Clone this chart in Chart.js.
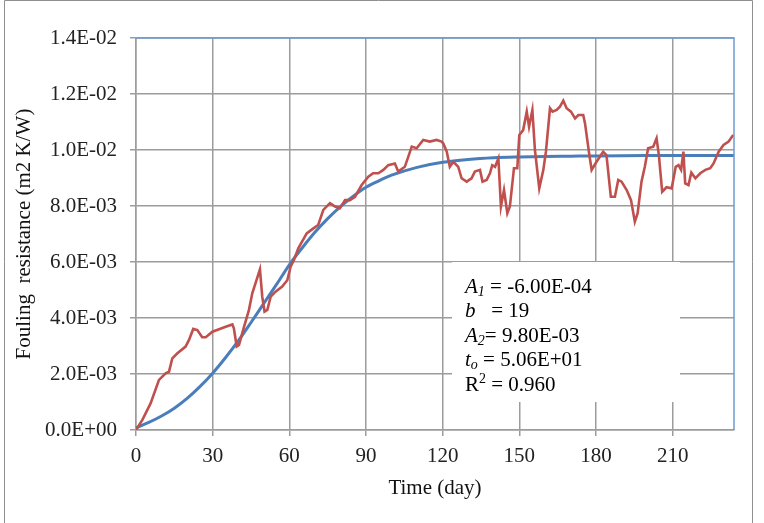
<!DOCTYPE html>
<html>
<head>
<meta charset="utf-8">
<script src="https://cdn.jsdelivr.net/npm/chart.js@4.4.1/dist/chart.umd.min.js"></script>
<style>
  html, body { margin: 0; padding: 0; background: #fff; }
  #wrap { width: 764px; height: 523px; position: relative; }
</style>
</head>
<body>
<div id="wrap"><canvas id="Mychart" width="764" height="523"></canvas></div>
<script>
// measured fouling resistance (values in 1E-03 m2 K/W)
var measDays = [0, 2.5, 5.7, 9, 11.6, 12.9, 14.2, 16.2, 19.4, 20.7, 22.4, 24, 25.9, 27.3, 29.9, 32.5, 35.1, 37.7, 38.3, 39.4,
  40.3, 42.3, 44.2, 45.5, 48.5, 49.4, 50.3, 51.4, 52.7, 54.6, 57.2, 59.2, 60.5, 61.8, 63.5, 66.8, 69.4, 71.3, 73.3, 75.9,
  77.9, 79.8, 81.8, 83.7, 85.7, 88.3, 90.9, 92.8, 94.8, 96.8, 98.7, 101.3, 102.6, 105.2, 107.9, 109.8, 112.4, 115, 117.6, 119.6,
  120.2, 121.6, 122.8, 124.2, 126.1, 127.4, 129.4, 131.3, 132.6, 134.6, 135.6, 137.2, 138.5, 139.4, 140.5, 141.8, 142.8, 144, 145.3, 146.3,
  147.9, 149.2, 150, 151.5, 152.9, 153.8, 155.1, 156.1, 157.8, 159.4, 160.4, 162, 163, 164.6, 165.9, 167.2, 168.5, 170.2, 171.8, 173.1,
  175, 175.7, 177.4, 178.3, 180.2, 182.8, 184.1, 185.8, 187.4, 188.7, 190, 192, 193.7, 195.2, 196.3, 197.8, 199.1, 200.4, 202.4, 203.7,
  204.6, 205.9, 207.6, 209.6, 211.2, 212.3, 213.3, 214.2, 214.9, 216.2, 217.3, 218.9, 220.8, 222.8, 224.7, 226, 228, 229.9, 231.9, 233.7];
var measValues = [0, 0.36, 0.95, 1.79, 2.02, 2.08, 2.56, 2.74, 2.98, 3.21, 3.61, 3.57, 3.31, 3.31, 3.51, 3.6, 3.69, 3.77, 3.63, 2.98,
  3.04, 3.69, 4.29, 4.88, 5.74, 4.76, 4.23, 4.29, 4.76, 4.94, 5.12, 5.35, 5.83, 6.07, 6.49, 7.02, 7.2, 7.32, 7.86, 8.1,
  7.98, 7.92, 8.21, 8.21, 8.33, 8.75, 9.05, 9.17, 9.17, 9.29, 9.46, 9.52, 9.23, 9.4, 10.12, 10.06, 10.36, 10.3, 10.36, 10.3,
  10.24, 9.94, 9.4, 9.58, 9.4, 8.99, 8.87, 8.99, 9.23, 9.29, 8.87, 8.93, 9.17, 9.46, 9.4, 9.7, 7.98, 8.57, 7.74, 7.98,
  9.35, 9.35, 10.54, 10.71, 11.37, 10.83, 11.43, 10.0, 8.63, 9.29, 9.94, 11.49, 11.37, 11.43, 11.55, 11.76, 11.49, 11.37, 11.13, 11.25,
  11.25, 10.95, 9.82, 9.29, 9.58, 9.94, 9.82, 8.33, 8.33, 8.93, 8.87, 8.57, 8.21, 7.44, 7.74, 8.87, 9.4, 10.06, 10.12, 10.42,
  9.82, 8.51, 8.67, 8.63, 9.4, 9.46, 9.29, 9.94, 8.81, 8.75, 9.19, 8.99, 9.17, 9.29, 9.35, 9.52, 9.94, 10.18, 10.3, 10.54];

// fitted curve (values in 1E-03 m2 K/W)
var fitDays = [0, 5, 10, 15, 20, 25, 30, 35, 40, 45, 50, 55, 60, 65, 70, 75, 80, 85, 90, 95,
  100, 110, 120, 130, 140, 150, 160, 170, 180, 200, 220, 234];
var fitValues = [0.08, 0.27, 0.5, 0.78, 1.13, 1.55, 2.03, 2.58, 3.18, 3.84, 4.52, 5.2, 5.9, 6.5, 7.06, 7.55, 7.98, 8.35, 8.67, 8.9,
  9.1, 9.38, 9.56, 9.66, 9.72, 9.75, 9.77, 9.78, 9.79, 9.8, 9.8, 9.8];

var xTicks = [0, 30, 60, 90, 120, 150, 180, 210];
var yTickLabels = ['0.0E+00', '2.0E-03', '4.0E-03', '6.0E-03', '8.0E-03', '1.0E-02', '1.2E-02', '1.4E-02'];

var fitText = [
  [{t: 'A', i: 1}, {t: '1', i: 1, sub: 1}, {t: ' = -6.00E-04'}],
  [{t: 'b', i: 1}, {t: '   = 19'}],
  [{t: 'A', i: 1}, {t: '2', i: 1, sub: 1}, {t: '= 9.80E-03'}],
  [{t: 't', i: 1}, {t: 'o', i: 1, sub: 1}, {t: ' = 5.06E+01'}],
  [{t: 'R'}, {t: '2', sup: 1}, {t: ' = 0.960'}]
];

var serif = "'Liberation Serif', 'Times New Roman', serif";

var framePlugin = {
  id: 'frame',
  afterDraw: function(chart){
    var ctx = chart.ctx, a = chart.chartArea;
    ctx.save();
    // outer frame
    ctx.strokeStyle = '#8f8f8f';
    ctx.lineWidth = 1;
    ctx.beginPath();
    ctx.moveTo(4.5, 523); ctx.lineTo(4.5, 0.5); ctx.lineTo(752.5, 0.5); ctx.lineTo(752.5, 523);
    ctx.stroke();
    // blue plot border top/right
    ctx.strokeStyle = '#6f9bd1';
    ctx.lineWidth = 1.5;
    ctx.beginPath();
    ctx.moveTo(a.left, a.top); ctx.lineTo(a.right, a.top); ctx.lineTo(a.right, a.bottom);
    ctx.stroke();
    // text box
    ctx.fillStyle = '#fff';
    ctx.fillRect(452, 262, 228, 140);
    ctx.fillStyle = '#000';
    ctx.textBaseline = 'middle';
    var y = 287;
    fitText.forEach(function(line){
      var x = 465;
      line.forEach(function(p){
        var size = (p.sub || p.sup) ? 14 : 21;
        ctx.font = (p.i ? 'italic ' : '') + size + 'px ' + serif;
        var dy = p.sub ? 5 : (p.sup ? -6 : 0);
        ctx.fillText(p.t, x, y + dy);
        x += ctx.measureText(p.t).width;
      });
      y += 24.5;
    });
    ctx.restore();
  }
};

var ctx = document.getElementById('Mychart');
var chart = new Chart(ctx, {
  type: 'scatter',
  data: {
    datasets: [{
      label: 'Measured',
      data: measDays.map(function(d, i){ return {x: d, y: measValues[i]}; }),
      showLine: true,
      borderColor: '#c0504d',
      borderWidth: 2.6,
      pointRadius: 0,
      fill: false,
      order: 0
    }, {
      label: 'Fit',
      data: fitDays.map(function(d, i){ return {x: d, y: fitValues[i]}; }),
      showLine: true,
      borderColor: '#4a7ebb',
      borderWidth: 3,
      pointRadius: 0,
      cubicInterpolationMode: 'monotone',
      fill: false,
      order: 1
    }]
  },
  options: {
    responsive: false,
    animation: false,
    devicePixelRatio: 1,
    layout: { padding: { left: 0, right: 30, top: 38, bottom: 0 } },
    plugins: { legend: { display: false }, tooltip: { enabled: false } },
    scales: {
      x: {
        type: 'linear',
        min: 0,
        max: 234,
        afterBuildTicks: function(s){
          s.ticks = xTicks.map(function(v){ return {value: v}; });
        },
        afterFit: function(s){ s.height = 93; },
        grid: { color: '#9c9c9c', lineWidth: 1.5, tickLength: 6 },
        border: { color: '#9c9c9c', width: 1.5 },
        ticks: { color: '#222', padding: 8, font: { family: serif, size: 21 } },
        title: { display: true, text: 'Time (day)', color: '#111', padding: { top: 0, bottom: 22 }, font: { family: serif, size: 21 } }
      },
      y: {
        min: 0,
        max: 14,
        afterBuildTicks: function(s){
          s.ticks = yTickLabels.map(function(l, i){ return {value: i * 2}; });
        },
        afterFit: function(s){ s.width = 136; },
        grid: { color: '#9c9c9c', lineWidth: 1.5, tickLength: 6 },
        border: { color: '#9c9c9c', width: 1.5 },
        ticks: {
          color: '#222', padding: 13, font: { family: serif, size: 21 },
          callback: function(v, i){ return yTickLabels[i]; }
        },
        title: { display: true, text: 'Fouling  resistance (m2 K/W)', color: '#111', padding: { top: 12, bottom: 0 }, font: { family: serif, size: 21 } }
      }
    }
  },
  plugins: [framePlugin]
});
</script>
</body>
</html>
